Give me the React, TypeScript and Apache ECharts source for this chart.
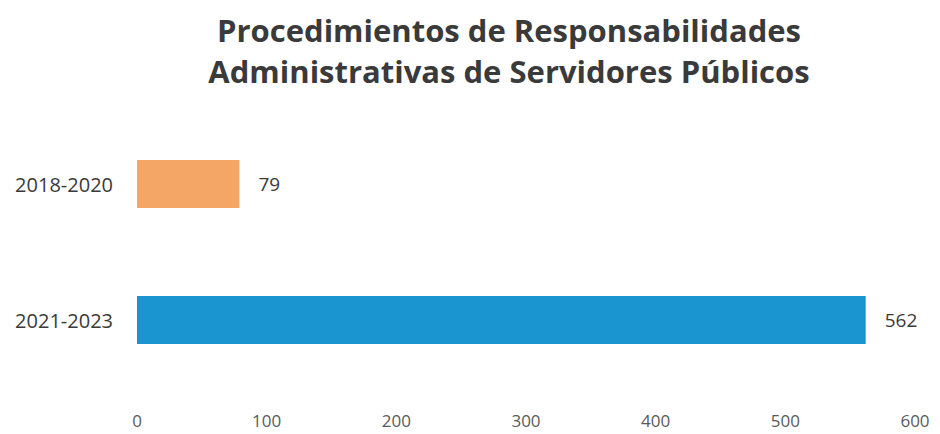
import React, { useEffect, useRef } from "react";
import * as echarts from "echarts";

const titleLines = ["Procedimientos de Responsabilidades", "Administrativas de Servidores Públicos"];
const categories = ["2018-2020", "2021-2023"];
const values = [79, 562];
const barColors = ["#F4A667", "#1A95D0"];
const axisMin = 0;
const axisMax = 600;
const axisInterval = 100;

export default function App() {
  const ref = useRef<HTMLDivElement>(null);
  useEffect(() => {
    if (!ref.current) return;
    const chart = echarts.init(ref.current, null, { renderer: "svg" });
    chart.setOption({
      animation: false,
      backgroundColor: "#ffffff",
      title: {
        text: titleLines.join("\n"),
        left: 504,
        textAlign: "center",
        top: 4,
        textStyle: {
          fontFamily: "Open Sans",
          fontWeight: "bold",
          fontSize: 31,
          lineHeight: 41,
          color: "#3a3a3a",
        },
      },
      grid: { left: 137, right: 25, top: 116, bottom: 46 },
      xAxis: {
        type: "value",
        min: axisMin,
        max: axisMax,
        interval: axisInterval,
        axisLine: { show: false },
        axisTick: { show: false },
        splitLine: { show: false },
        axisLabel: {
          margin: 24,
          fontFamily: "Open Sans",
          fontSize: 17,
          color: "#5a5a5a",
        },
      },
      yAxis: {
        type: "category",
        data: categories,
        inverse: true,
        axisLine: { show: false },
        axisTick: { show: false },
        axisLabel: {
          margin: 24,
          fontFamily: "Open Sans",
          fontSize: 20,
          color: "#3a3a3a",
        },
      },
      series: [
        {
          type: "bar",
          barWidth: 48,
          data: values.map((v, i) => ({ value: v, itemStyle: { color: barColors[i] } })),
          label: {
            show: true,
            position: "right",
            distance: 19,
            fontFamily: "Open Sans",
            fontSize: 19,
            color: "#3a3a3a",
          },
        },
      ],
    });
    return () => chart.dispose();
  }, []);
  return <div ref={ref} style={{ width: 940, height: 434, position: "absolute", left: 0, top: 0 }} />;
}
